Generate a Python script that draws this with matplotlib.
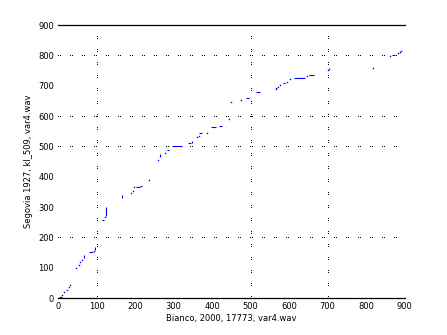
import numpy as np
import matplotlib
matplotlib.use("Agg")
import matplotlib.pyplot as plt

# alignment path pieces: (x start, x end, y start, y end)
seg_x0 = [3, 11, 15, 22, 28, 32, 47, 53, 58, 63, 68, 80, 92, 96, 114, 122, 124,
          167, 190, 194, 197, 202, 213, 237, 259, 264, 278, 283, 296, 337, 347,
          361, 365, 366, 387, 397, 418, 444, 449, 475, 488, 515, 565, 567, 570,
          576, 583, 595, 603, 612, 647, 653, 702, 705, 818, 863, 868, 882, 887, 892]
seg_x1 = [10, 11, 15, 22, 28, 32, 47, 53, 58, 63, 68, 91, 92, 96, 119, 122, 124,
          167, 190, 194, 197, 213, 218, 237, 259, 264, 278, 289, 323, 344, 347,
          361, 365, 375, 387, 411, 425, 444, 449, 475, 495, 524, 565, 567, 570,
          576, 589, 595, 603, 641, 647, 666, 702, 705, 818, 863, 875, 882, 887, 892]
seg_y0 = [5, 12, 19, 26, 37, 44, 101, 109, 119, 127, 133, 152, 155, 158, 259, 268, 270,
          329, 345, 353, 365, 368, 371, 391, 454, 466, 480, 487, 500, 510, 512,
          530, 536, 543, 546, 563, 567, 592, 645, 652, 659, 678, 688, 692, 697,
          702, 708, 713, 722, 727, 731, 735, 752, 755, 758, 797, 803, 808, 812, 815]
seg_y1 = [5, 12, 19, 26, 37, 44, 101, 109, 119, 127, 141, 152, 155, 168, 259, 268, 301,
          341, 345, 353, 365, 368, 371, 391, 454, 475, 480, 487, 500, 510, 517,
          530, 536, 543, 546, 563, 567, 592, 645, 652, 659, 678, 688, 692, 697,
          702, 708, 713, 722, 727, 731, 735, 752, 755, 758, 797, 803, 808, 812, 815]

# section boundaries
bound_x = [100, 500, 700]
bound_y = [200, 500, 600, 800]

ticks = np.arange(0, 901, 100)

fig = plt.figure(figsize=(4.47, 3.35), dpi=100)
ax = fig.add_axes([0.13, 0.11, 0.775, 0.815])

for bx in bound_x:
    ax.axvline(bx, color="black", lw=0.8, dashes=(0.8, 1.2, 0.8, 9.0),
               antialiased=False, zorder=1)
for by in bound_y:
    ax.axhline(by, color="black", lw=0.8, dashes=(0.8, 1.4, 0.8, 8.8),
               antialiased=False, zorder=1)

for x0, x1, y0, y1 in zip(seg_x0, seg_x1, seg_y0, seg_y1):
    if x0 == x1 and y0 == y1:
        ax.plot([x0], [y0], marker="s", ms=1.0, mew=0, color="blue", ls="none", zorder=3)
    else:
        ax.plot([x0, x1], [y0, y1], color="blue", lw=0.8, solid_capstyle="butt", zorder=3)

ax.set_xlim(0, 900)
ax.set_ylim(0, 900)
ax.set_xticks(ticks)
ax.set_yticks(ticks)
ax.tick_params(length=0, labelsize=6, pad=3, colors="black")
ax.spines["left"].set_visible(False)
ax.spines["right"].set_visible(False)
ax.spines["top"].set_linewidth(0.9)
ax.spines["bottom"].set_linewidth(0.9)

ax.set_xlabel("Bianco, 2000, 17773, var4.wav", fontsize=6, labelpad=2)
ax.set_ylabel("Segovia 1927, kl_509, var4.wav", fontsize=6, labelpad=4)

fig.savefig("out.png", dpi=100)
